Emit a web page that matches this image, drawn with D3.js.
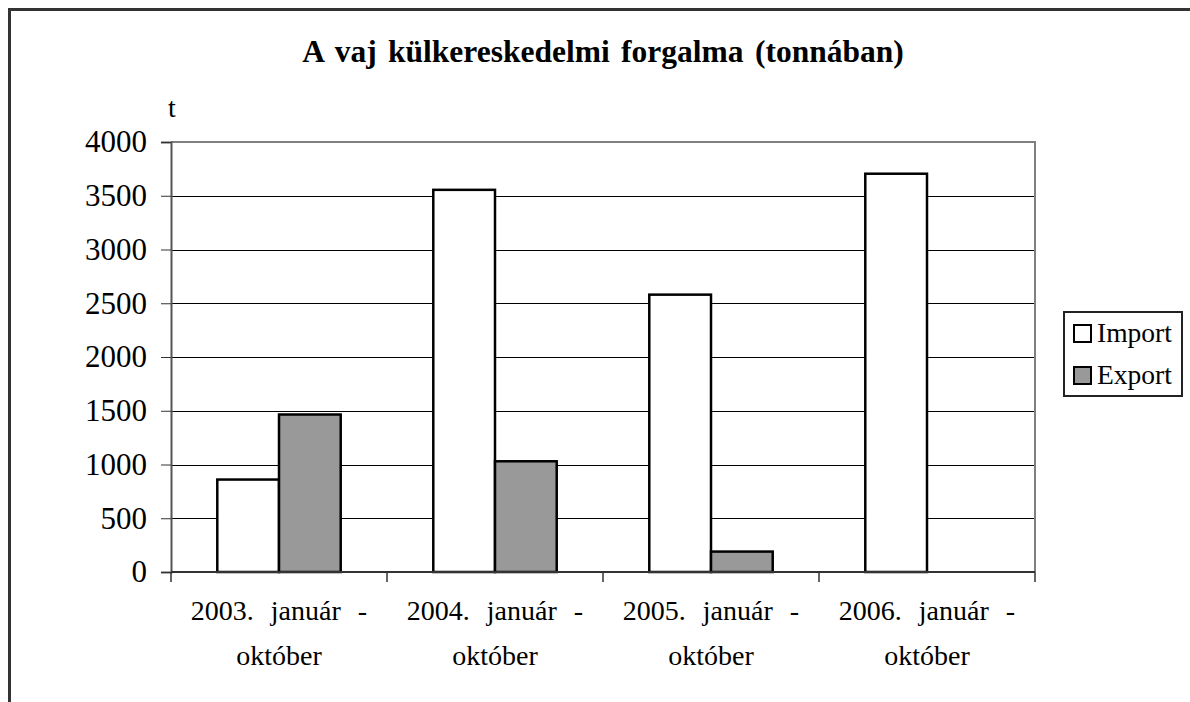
<!DOCTYPE html>
<html>
<head>
<meta charset="utf-8">
<script src="https://cdn.jsdelivr.net/npm/d3@7"></script>
<style>
    body { margin: 0; background: #fff; }
</style>
</head>
<body>
<div id="chart"></div>
<script>

// chart data
let periods = ['2003. január - október', '2004. január - október', '2005. január - október', '2006. január - október'];
let periodLines = [['2003. január -', 'október'], ['2004. január -', 'október'], ['2005. január -', 'október'], ['2006. január -', 'október']];
let seriesNames = ['Import', 'Export'];
let importValues = [860, 3555, 2580, 3705];
let exportValues = [1465, 1030, 190, 0];
let yTicks = [0, 500, 1000, 1500, 2000, 2500, 3000, 3500, 4000];
let seriesColors = {'Import': '#ffffff', 'Export': '#999999'};

const FONT = '"Liberation Serif"';

let width = 1190, height = 702;
let margin = {top: 142, right: 155, bottom: 130, left: 171};

let svg = d3.select('#chart').append('svg')
    .attr('width', width)
    .attr('height', height);

// outer frame (runs off the right and bottom edge)
svg.append('rect')
    .attr('x', 9.5).attr('y', 9.5)
    .attr('width', 1300).attr('height', 900)
    .attr('fill', 'none')
    .attr('stroke', '#333')
    .attr('stroke-width', 3);

let x0 = d3.scaleBand()
    .domain(periods)
    .range([margin.left, width - margin.right]);

let x1 = d3.scaleBand()
    .domain(seriesNames)
    .range([0, x0.bandwidth()])
    .paddingOuter(0.75);

let y = d3.scaleLinear()
    .domain([0, 4000])
    .range([height - margin.bottom, margin.top]);

let rows = periods.map((p, i) => ({period: p, Import: importValues[i], Export: exportValues[i]}));

// gridlines
svg.append('g')
    .selectAll('line')
    .data(yTicks.filter(d => d > 0 && d < 4000))
    .enter().append('line')
    .attr('x1', margin.left).attr('x2', width - margin.right)
    .attr('y1', d => Math.round(y(d)) + 0.5).attr('y2', d => Math.round(y(d)) + 0.5)
    .attr('stroke', '#000')
    .attr('stroke-width', 1);

// plot border top + right
svg.append('path')
    .attr('d', `M${margin.left},${y(4000)} H${width - margin.right} V${y(0)}`)
    .attr('fill', 'none')
    .attr('stroke', '#808080')
    .attr('stroke-width', 2);

// bars
svg.append('g')
    .selectAll('g')
    .data(rows)
    .enter().append('g')
    .attr('transform', d => `translate(${x0(d.period)},0)`)
    .selectAll('rect')
    .data(d => seriesNames.map(s => ({key: s, value: d[s]})))
    .enter().append('rect')
    .attr('x', d => x1(d.key))
    .attr('y', d => y(d.value))
    .attr('width', x1.bandwidth())
    .attr('height', d => y(0) - y(d.value))
    .attr('fill', d => seriesColors[d.key])
    .attr('stroke', '#000')
    .attr('stroke-width', d => d.value > 0 ? 2.5 : 0);

// y axis
let yAxis = d3.axisLeft(y)
    .tickValues(yTicks)
    .tickSize(10)
    .tickFormat(d3.format('d'));

let yAxisGroup = svg.append('g')
    .attr('transform', `translate(${margin.left},0)`)
    .call(yAxis);
yAxisGroup.attr('font-family', null).attr('font-size', null);
yAxisGroup.select('.domain').attr('stroke', '#555').attr('stroke-width', 2);
yAxisGroup.selectAll('.tick line').attr('stroke', '#333');
yAxisGroup.selectAll('.tick text')
    .attr('x', -24)
    .attr('dy', '0.32em')
    .style('font-size', '31px')
    .style('font-family', FONT)
    .attr('fill', '#000');

// x axis
let xAxisGroup = svg.append('g')
    .attr('transform', `translate(0,${y(0)})`);
xAxisGroup.append('line')
    .attr('x1', margin.left).attr('x2', width - margin.right)
    .attr('y1', 0).attr('y2', 0)
    .attr('stroke', '#333').attr('stroke-width', 2);
let boundaries = periods.map(p => x0(p)).concat([x0(periods[periods.length - 1]) + x0.bandwidth()]);
xAxisGroup.selectAll('.xtick')
    .data(boundaries)
    .enter().append('line')
    .attr('class', 'xtick')
    .attr('x1', d => d).attr('x2', d => d)
    .attr('y1', 0).attr('y2', 10)
    .attr('stroke', '#333').attr('stroke-width', 1.5);

let catLabels = svg.append('g')
    .selectAll('text')
    .data(periods)
    .enter().append('text')
    .attr('text-anchor', 'middle')
    .style('font-family', FONT)
    .style('font-size', '28px')
    .style('word-spacing', '10px');
catLabels.each(function(p, i) {
    let t = d3.select(this);
    periodLines[i].forEach((line, j) => {
        t.append('tspan')
            .attr('x', x0(p) + x0.bandwidth() / 2)
            .attr('y', 620 + j * 45)
            .text(line);
    });
});

// title + unit
svg.append('text')
    .attr('x', (margin.left + width - margin.right) / 2)
    .attr('y', 62)
    .attr('text-anchor', 'middle')
    .style('font-family', FONT)
    .style('font-size', '31.5px')
    .style('font-weight', 'bold')
    .style('word-spacing', '3.5px')
    .text('A vaj külkereskedelmi forgalma (tonnában)');

svg.append('text')
    .attr('x', 172)
    .attr('y', 117)
    .attr('text-anchor', 'middle')
    .style('font-family', FONT)
    .style('font-size', '28px')
    .text('t');

// legend
let legend = svg.append('g')
    .attr('transform', 'translate(1064,312)');
legend.append('rect')
    .attr('width', 118).attr('height', 84)
    .attr('fill', '#fff')
    .attr('stroke', '#222')
    .attr('stroke-width', 2);
let legendItems = legend.selectAll('.item')
    .data(seriesNames)
    .enter().append('g')
    .attr('class', 'item')
    .attr('transform', (d, i) => `translate(0,${i * 42})`);
legendItems.append('rect')
    .attr('x', 10).attr('y', 13)
    .attr('width', 17).attr('height', 17)
    .attr('fill', d => seriesColors[d])
    .attr('stroke', '#000')
    .attr('stroke-width', 2);
legendItems.append('text')
    .attr('x', 33).attr('y', 30)
    .style('font-family', FONT)
    .style('font-size', '27.5px')
    .text(d => d);

</script>
</body>
</html>
